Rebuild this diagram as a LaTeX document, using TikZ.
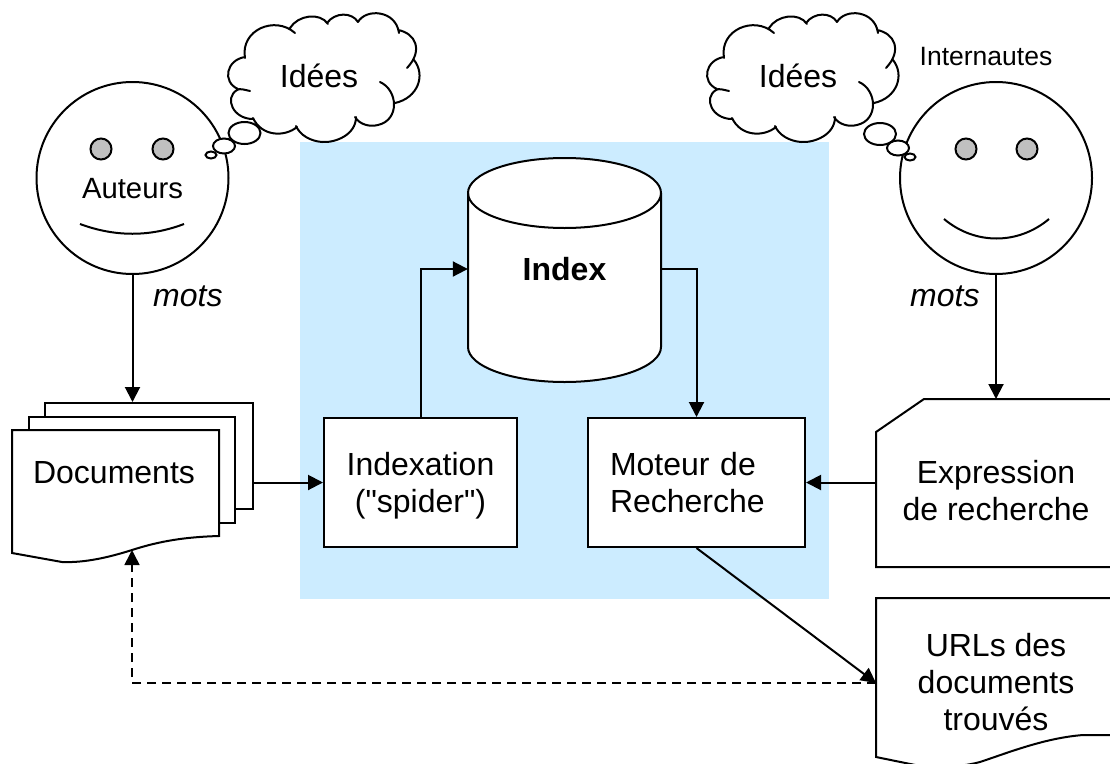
\documentclass[tikz,border=0pt]{standalone}
\usepackage{fontspec}
\setmainfont{Liberation Sans}
\usetikzlibrary{arrows.meta,shapes.geometric}
\definecolor{myBlue}{HTML}{CCECFF}
\definecolor{myGray}{HTML}{C0C0C0}
\tikzset{
	edge/.style = {-{Triangle[length=15pt,width=15pt]}, line width=2pt},
	stroke/.style = {line width=2pt},
	labeltext/.style = {font=\fontsize{29.3}{36}\selectfont, align=center, inner sep=0pt},
	bigtext/.style = {font=\fontsize{32}{37}\selectfont, align=center, inner sep=0pt},
	face/.style = {circle, draw, stroke, minimum size=192pt, inner sep=0pt},
	eye/.style = {circle, draw, stroke, fill=myGray, minimum size=21pt, inner sep=0pt},
	bubble/.style = {ellipse, draw, stroke, fill=white, inner sep=0pt},
	pagebox/.style = {rectangle, draw, stroke, fill=white, inner sep=0pt},
	stepbox/.style = {pagebox, bigtext, minimum height=129pt},
	pics/ideacloud/.style = {code = {
		\draw[stroke, line cap=round]
			(253,119) .. controls (233,119) and (224,98) .. (237,90) .. controls (240,88) and (245,90) .. (250,91)
			(238,89) .. controls (222,82) and (226,60) .. (245,57)
			(245,58) .. controls (240,30) and (275,15) .. (295,33)
			(290,28) .. controls (298,15) and (320,12) .. (328,24)
			(327,23) .. controls (335,12) and (352,12) .. (358,22)
			(358,22) .. controls (366,8) and (396,10) .. (399,33)
			(398,30) .. controls (415,33) and (424,50) .. (407,68)
			(414,60) .. controls (426,75) and (418,98) .. (395,103)
			(380,82) .. controls (398,90) and (400,120) .. (378,125) .. controls (370,127) and (360,125) .. (355,117)
			(356,117) .. controls (356,135) and (335,143) .. (322,142) .. controls (310,141) and (300,135) .. (296,126)
			(297,127) .. controls (285,137) and (262,137) .. (253,118);
		\node[bigtext] (#1) at (319,76) {Idées};
	}},
}
\begin{document}
\begin{tikzpicture}[x=1pt, y=-1pt]
	\useasboundingbox (0,0) rectangle (1110,763);
	
	% Zone
	\fill[myBlue] (300,142) rectangle (829,599);
	
	% Auteurs
	\node[face] (auteurs) at (132.5,178) {};
	\node[eye] (eyeA) at (101,149) {};
	\node[eye] (eyeB) at (163,149) {};
	\node[labeltext] (auteursText) at (132.5,189) {Auteurs};
	\coordinate (mouthA) at (80,224);
	\coordinate (mouthB) at (184,224);
	\draw[stroke] (mouthA) .. controls (115,237) and (150,237) .. (mouthB);
	\pic {ideacloud=ideesA};
	\node[bubble, minimum width=32pt, minimum height=22pt] (bubA) at (244.5,133) {};
	\node[bubble, minimum width=22pt, minimum height=15pt] (bubB) at (224,146) {};
	\node[bubble, minimum width=11pt, minimum height=7pt] (bubC) at (211,155) {};
	\node[bigtext, anchor=west] (motsA) at (153,296) {\itshape mots};
	
	% Internautes
	\node[face] (internautes) at (996,178) {};
	\node[eye] (eyeC) at (966,149) {};
	\node[eye] (eyeD) at (1027,149) {};
	\node[font=\fontsize{26.5}{30}\selectfont, inner sep=0pt] (internautesText) at (986,57) {Internautes};
	\coordinate (mouthC) at (944,219);
	\coordinate (mouthD) at (1049,219);
	\draw[stroke] (mouthC) .. controls (975,245) and (1018,245) .. (mouthD);
	\pic[xshift=479pt] {ideacloud=ideesB};
	\node[bubble, minimum width=32pt, minimum height=22pt] (bubD) at (880,134) {};
	\node[bubble, minimum width=22pt, minimum height=15pt] (bubE) at (898,148) {};
	\node[bubble, minimum width=11pt, minimum height=7pt] (bubF) at (910,157) {};
	\node[bigtext, anchor=west] (motsB) at (910,296) {\itshape mots};
	
	% Documents
	\node[pagebox, minimum width=208pt, minimum height=106pt] (docBack) at (149,456) {};
	\node[pagebox, minimum width=206pt, minimum height=106pt] (docMid) at (132,470) {};
	\draw[stroke, fill=white] (12,430) -- (219,430) -- (219,536)
		.. controls (185,537) and (160,541) .. (132,550)
		.. controls (110,557) and (85,563) .. (62,562)
		-- (12,553) -- cycle;
	\node[bigtext] (docText) at (114,473) {Documents};
	\coordinate (docWave) at (132,550);
	
	% Index
	\draw[stroke, fill=white] (468,193) arc[start angle=180, end angle=0, x radius=96.5, y radius=-35]
		-- (661,347) arc[start angle=0, end angle=-180, x radius=96.5, y radius=-35] -- cycle;
	\draw[stroke] (468,193) arc[start angle=180, end angle=360, x radius=96.5, y radius=-35];
	\node[bigtext, font=\fontsize{32}{37}\selectfont\bfseries, minimum width=193pt] (index) at (564.5,269) {Index};
	
	% Boites
	\node[stepbox, text depth=0pt, minimum width=193pt] (indexation) at (420.5,482.5) {Indexation\\(\textquotedbl spider\textquotedbl)};
	\node[stepbox, align=left, text width=173pt, inner xsep=22pt] (moteur) at (696.5,482.5) {Moteur de\\Recherche};
	
	% Expression, URLs
	\draw[stroke, fill=white] (1112,399) -- (924,399) -- (876,432) -- (876,567) -- (1112,567);
	\node[bigtext] (expression) at (996,491) {Expression\\de recherche};
	\coordinate (exprTop) at (996,399);
	\coordinate (exprLeft) at (876,482.5);
	\draw[stroke, fill=white] (1112,598) -- (876,598) -- (876,757) -- (925,767)
		.. controls (945,768) and (965,766) .. (980,762)
		.. controls (1010,752) and (1045,738) .. (1083,735) -- (1112,735);
	\node[bigtext] (urls) at (996,682) {URLs des\\documents\\trouvés};
	\coordinate (urlsLeft) at (876,683);
	
	% Kanten
	\draw[edge] (auteurs) -- (auteurs.south |- docBack.north);
	\draw[edge] (internautes) -- (exprTop);
	\draw[edge] (docBack.east |- indexation.west) -- (indexation.west);
	\draw[edge] (indexation.north) |- (index.west);
	\draw[edge] (index.east) -| (moteur.north);
	\draw[edge] (exprLeft) -- (moteur.east);
	\draw[edge] (moteur.south) -- (urlsLeft);
	\draw[edge, dashed, dash pattern=on 9pt off 6pt, line width=1.6pt] (urlsLeft) -| (docWave);
\end{tikzpicture}
\end{document}
